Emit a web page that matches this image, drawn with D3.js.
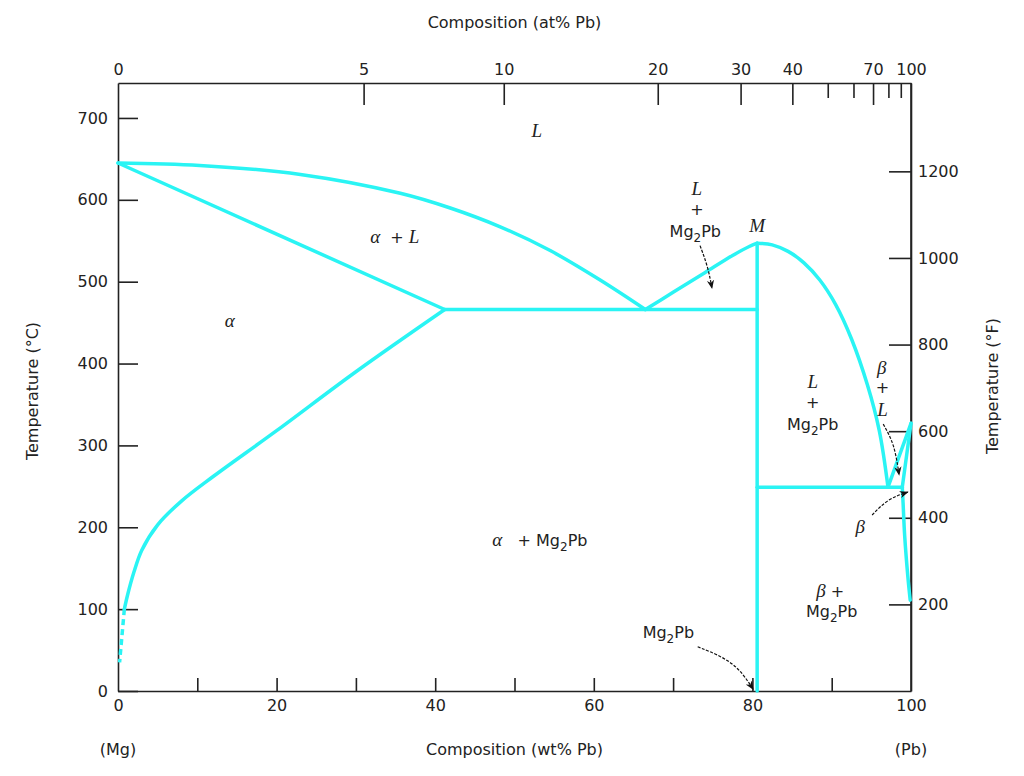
<!DOCTYPE html>
<meta charset="utf-8">
<style>
body { margin: 0; background: #fff; }
svg { background: #fff; font-family: "DejaVu Sans", sans-serif; }
.axis path, .axis line { stroke: #222; stroke-width: 1.6; }
.axis text { font-size: 16px; fill: #222; font-family: "DejaVu Sans", sans-serif; }
.phase { fill: none; stroke: #2af4f4; stroke-width: 3.5; stroke-linejoin: round; stroke-linecap: round; }
.arrow { fill: none; stroke: #111; stroke-width: 1.2; stroke-dasharray: 3,1.5; }
.lbl { font-size: 16px; fill: #222; white-space: pre; }
.sym { font-family: "Liberation Serif", serif; font-style: italic; font-size: 19px; }
.title { font-size: 16px; fill: #222; }
</style>
<svg width="1024" height="776"></svg>
<script src="https://d3js.org/d3.v7.min.js"></script>
<script>

var svg = d3.select("svg"),
    margin = {top: 83, right: 113, bottom: 85, left: 118},
    width = svg.attr("width") - margin.left - margin.right,
    height = svg.attr("height") - margin.top - margin.bottom;

// axis ticks
var celsiusTicks = [0, 100, 200, 300, 400, 500, 600, 700];
var fahrenheitTicks = [200, 400, 600, 800, 1000, 1200];
var wtTicks = [0, 10, 20, 30, 40, 50, 60, 70, 80, 90, 100];
var wtLabels = [0, 20, 40, 60, 80, 100];
var atTicks = [0, 5, 10, 20, 30, 40, 50, 60, 70, 80, 90, 100];
var atLabels = [0, 5, 10, 20, 30, 40, 70, 100];

// phase boundaries: [wt% Pb, temperature C]
var liquidusMg = [[0, 645], [10.3, 642], [23, 631], [35.6, 608], [41.9, 590], [48.2, 567], [54.5, 538], [60.8, 502], [66.5, 466]];
var solidusMg = [[0, 645], [41.2, 466]];
var solvusMg = [[41.2, 466], [30, 390], [20, 318], [12, 262], [8, 232], [5, 203], [3, 172], [2, 145], [1.2, 117], [0.8, 100]];
var solvusMgDashed = [[0.8, 100], [0.45, 62], [0.2, 35]];
var eutecticMg = [[41.2, 466], [80.6, 466]];
var compoundLeft = [[66.5, 466], [70, 487], [74, 511], [77.5, 532], [79.6, 543], [80.6, 547]];
var compoundRight = [[80.6, 547], [82.5, 545], [84.5, 537], [86.5, 523], [88.5, 502], [90.5, 472], [92.5, 430], [94.5, 374], [96, 318], [97.1, 249]];
var compoundLine = [[80.6, 0], [80.6, 547]];
var eutecticPb = [[80.6, 249], [98.9, 249]];
var liquidusPb = [[97.1, 249], [100, 327]];
var solidusPb = [[100, 327], [98.9, 249]];
var solvusPb = [[98.9, 249], [99.0, 230], [99.2, 190], [99.6, 140], [99.9, 111]];

// pointer arrows
var arrows = [
  [[73.4, 544], [74.4, 518], [74.9, 492]],
  [[96.5, 326], [97.9, 302], [98.5, 264]],
  [[95.1, 215], [97.1, 235], [99.6, 243]],
  [[73.1, 54], [77.8, 36], [80.1, 2]]
];

// region labels
var labels = [
  {wt: 52.8, t: 677, parts: [{s: "L", it: 1}]},
  {wt: 34.9, t: 547, parts: [{s: "α", it: 1}, {s: "  + "}, {s: "L", it: 1}]},
  {wt: 14.1, t: 445, parts: [{s: "α", it: 1}]},
  {wt: 73.0, t: 606, parts: [{s: "L", it: 1}]},
  {wt: 73.0, t: 581, parts: [{s: "+"}]},
  {wt: 72.8, t: 555, parts: [{s: "Mg"}, {s: "2", sub: 1}, {s: "Pb"}]},
  {wt: 80.6, t: 561, parts: [{s: "M", it: 1}]},
  {wt: 87.6, t: 370, parts: [{s: "L", it: 1}]},
  {wt: 87.6, t: 346, parts: [{s: "+"}]},
  {wt: 87.6, t: 319, parts: [{s: "Mg"}, {s: "2", sub: 1}, {s: "Pb"}]},
  {wt: 96.3, t: 387, parts: [{s: "β", it: 1}]},
  {wt: 96.4, t: 364, parts: [{s: "+"}]},
  {wt: 96.4, t: 336, parts: [{s: "L", it: 1}]},
  {wt: 93.6, t: 193, parts: [{s: "β", it: 1}]},
  {wt: 89.8, t: 115, parts: [{s: "β", it: 1}, {s: " +"}]},
  {wt: 90.0, t: 90, parts: [{s: "Mg"}, {s: "2", sub: 1}, {s: "Pb"}]},
  {wt: 53.2, t: 177, parts: [{s: "α", it: 1}, {s: "   + Mg"}, {s: "2", sub: 1}, {s: "Pb"}]},
  {wt: 69.4, t: 65, parts: [{s: "Mg"}, {s: "2", sub: 1}, {s: "Pb"}]}
];

var x = d3.scaleLinear().domain([0, 100]).range([0, width]);
var y = d3.scaleLinear().domain([0, 742.7]).range([height, 0]);
var yF = d3.scaleLinear().domain([0, 1404]).range([height, 0]);

// atom% -> weight% (Pb 207.2, Mg 24.305)
function atToWt(a) { return 100 * a * 207.2 / (a * 207.2 + (100 - a) * 24.305); }
var xAt = function(a) { return x(atToWt(a)); };
xAt.domain = function() { return [0, 100]; };
xAt.range = function() { return x.range(); };
xAt.copy = function() { return xAt; };

var g = svg.append("g")
    .attr("transform", "translate(" + margin.left + "," + margin.top + ")");

var defs = svg.append("defs");
defs.append("marker")
    .attr("id", "head")
    .attr("viewBox", "0 -5 10 10")
    .attr("refX", 9).attr("refY", 0)
    .attr("markerWidth", 9).attr("markerHeight", 9)
    .attr("markerUnits", "userSpaceOnUse")
    .attr("orient", "auto")
  .append("path")
    .attr("d", "M0,-4L10,0L0,4L3,0Z")
    .attr("fill", "#111");

// axes
g.append("g")
    .attr("class", "axis")
    .call(d3.axisLeft(y).tickValues(celsiusTicks).tickSize(-20).tickSizeOuter(0).tickPadding(10));

g.append("g")
    .attr("class", "axis")
    .attr("transform", "translate(" + width + ",0)")
    .call(d3.axisRight(yF).tickValues(fahrenheitTicks).tickSize(-22).tickSizeOuter(0).tickPadding(7)
      .tickFormat(d3.format("d")));

var bottomAxis = g.append("g")
    .attr("class", "axis")
    .attr("transform", "translate(0," + height + ")")
    .call(d3.axisBottom(x).tickValues(wtTicks).tickSize(-13).tickSizeOuter(0).tickPadding(9)
      .tickFormat(function(d) { return wtLabels.indexOf(d) >= 0 ? d : ""; }));
bottomAxis.selectAll(".tick line")
    .attr("y2", function(d) { return (d === 0 || d === 100) ? 0 : -13; });

var atAxis = g.append("g")
    .attr("class", "axis")
    .call(d3.axisTop(xAt).tickValues(atTicks).tickSize(-22).tickSizeOuter(0).tickPadding(8)
      .tickFormat(function(d) { return atLabels.indexOf(d) >= 0 ? d : ""; }));
atAxis.selectAll(".tick line")
    .attr("y2", function(d) { return (d === 0 || d === 100) ? 0 : (atLabels.indexOf(d) >= 0 ? 22 : 15); });

// right border of the plot box
g.append("line")
    .attr("x1", width).attr("x2", width)
    .attr("y1", 0).attr("y2", height)
    .attr("stroke", "#222").attr("stroke-width", 1.6);

// phase boundaries
var line = d3.line().x(function(d) { return x(d[0]); }).y(function(d) { return y(d[1]); });
var curve = d3.line().x(function(d) { return x(d[0]); }).y(function(d) { return y(d[1]); }).curve(d3.curveCatmullRom);

[liquidusMg, solvusMg, compoundLeft, compoundRight, solvusPb].forEach(function(pts) {
  g.append("path").attr("class", "phase").attr("d", curve(pts));
});
[solidusMg, eutecticMg, compoundLine, eutecticPb, liquidusPb, solidusPb].forEach(function(pts) {
  g.append("path").attr("class", "phase").attr("d", line(pts));
});
g.append("path").attr("class", "phase").attr("d", line(solvusMgDashed))
    .style("stroke-dasharray", "6,4").style("stroke-linecap", "butt");

// arrows
var arrowLine = d3.line().x(function(d) { return x(d[0]); }).y(function(d) { return y(d[1]); }).curve(d3.curveBasis);
g.selectAll(".arrow").data(arrows).enter().append("path")
    .attr("class", "arrow")
    .attr("d", arrowLine)
    .attr("marker-end", "url(#head)");

// labels
labels.forEach(function(l) {
  var t = g.append("text")
      .attr("class", "lbl")
      .attr("x", x(l.wt))
      .attr("y", y(l.t))
      .attr("text-anchor", "middle");
  var shift = 0;
  l.parts.forEach(function(p) {
    var s = t.append("tspan").text(p.s);
    if (p.it) s.attr("class", "sym");
    if (p.sub) { s.attr("dy", 5).style("font-size", "12px"); shift = 5; }
    else if (shift) { s.attr("dy", -shift); shift = 0; }
  });
});

// titles
svg.append("text").attr("class", "title")
    .attr("x", margin.left + x(50)).attr("y", 28)
    .attr("text-anchor", "middle")
    .text("Composition (at% Pb)");
svg.append("text").attr("class", "title")
    .attr("x", margin.left + x(50)).attr("y", 755)
    .attr("text-anchor", "middle")
    .text("Composition (wt% Pb)");
svg.append("text").attr("class", "title")
    .attr("x", margin.left + x(0)).attr("y", 755)
    .attr("text-anchor", "middle")
    .text("(Mg)");
svg.append("text").attr("class", "title")
    .attr("x", margin.left + x(100)).attr("y", 755)
    .attr("text-anchor", "middle")
    .text("(Pb)");
svg.append("text").attr("class", "title")
    .attr("transform", "translate(38," + 391 + ") rotate(-90)")
    .attr("text-anchor", "middle")
    .text("Temperature (°C)");
svg.append("text").attr("class", "title")
    .attr("transform", "translate(998," + 386 + ") rotate(-90)")
    .attr("text-anchor", "middle")
    .text("Temperature (°F)");

</script>
